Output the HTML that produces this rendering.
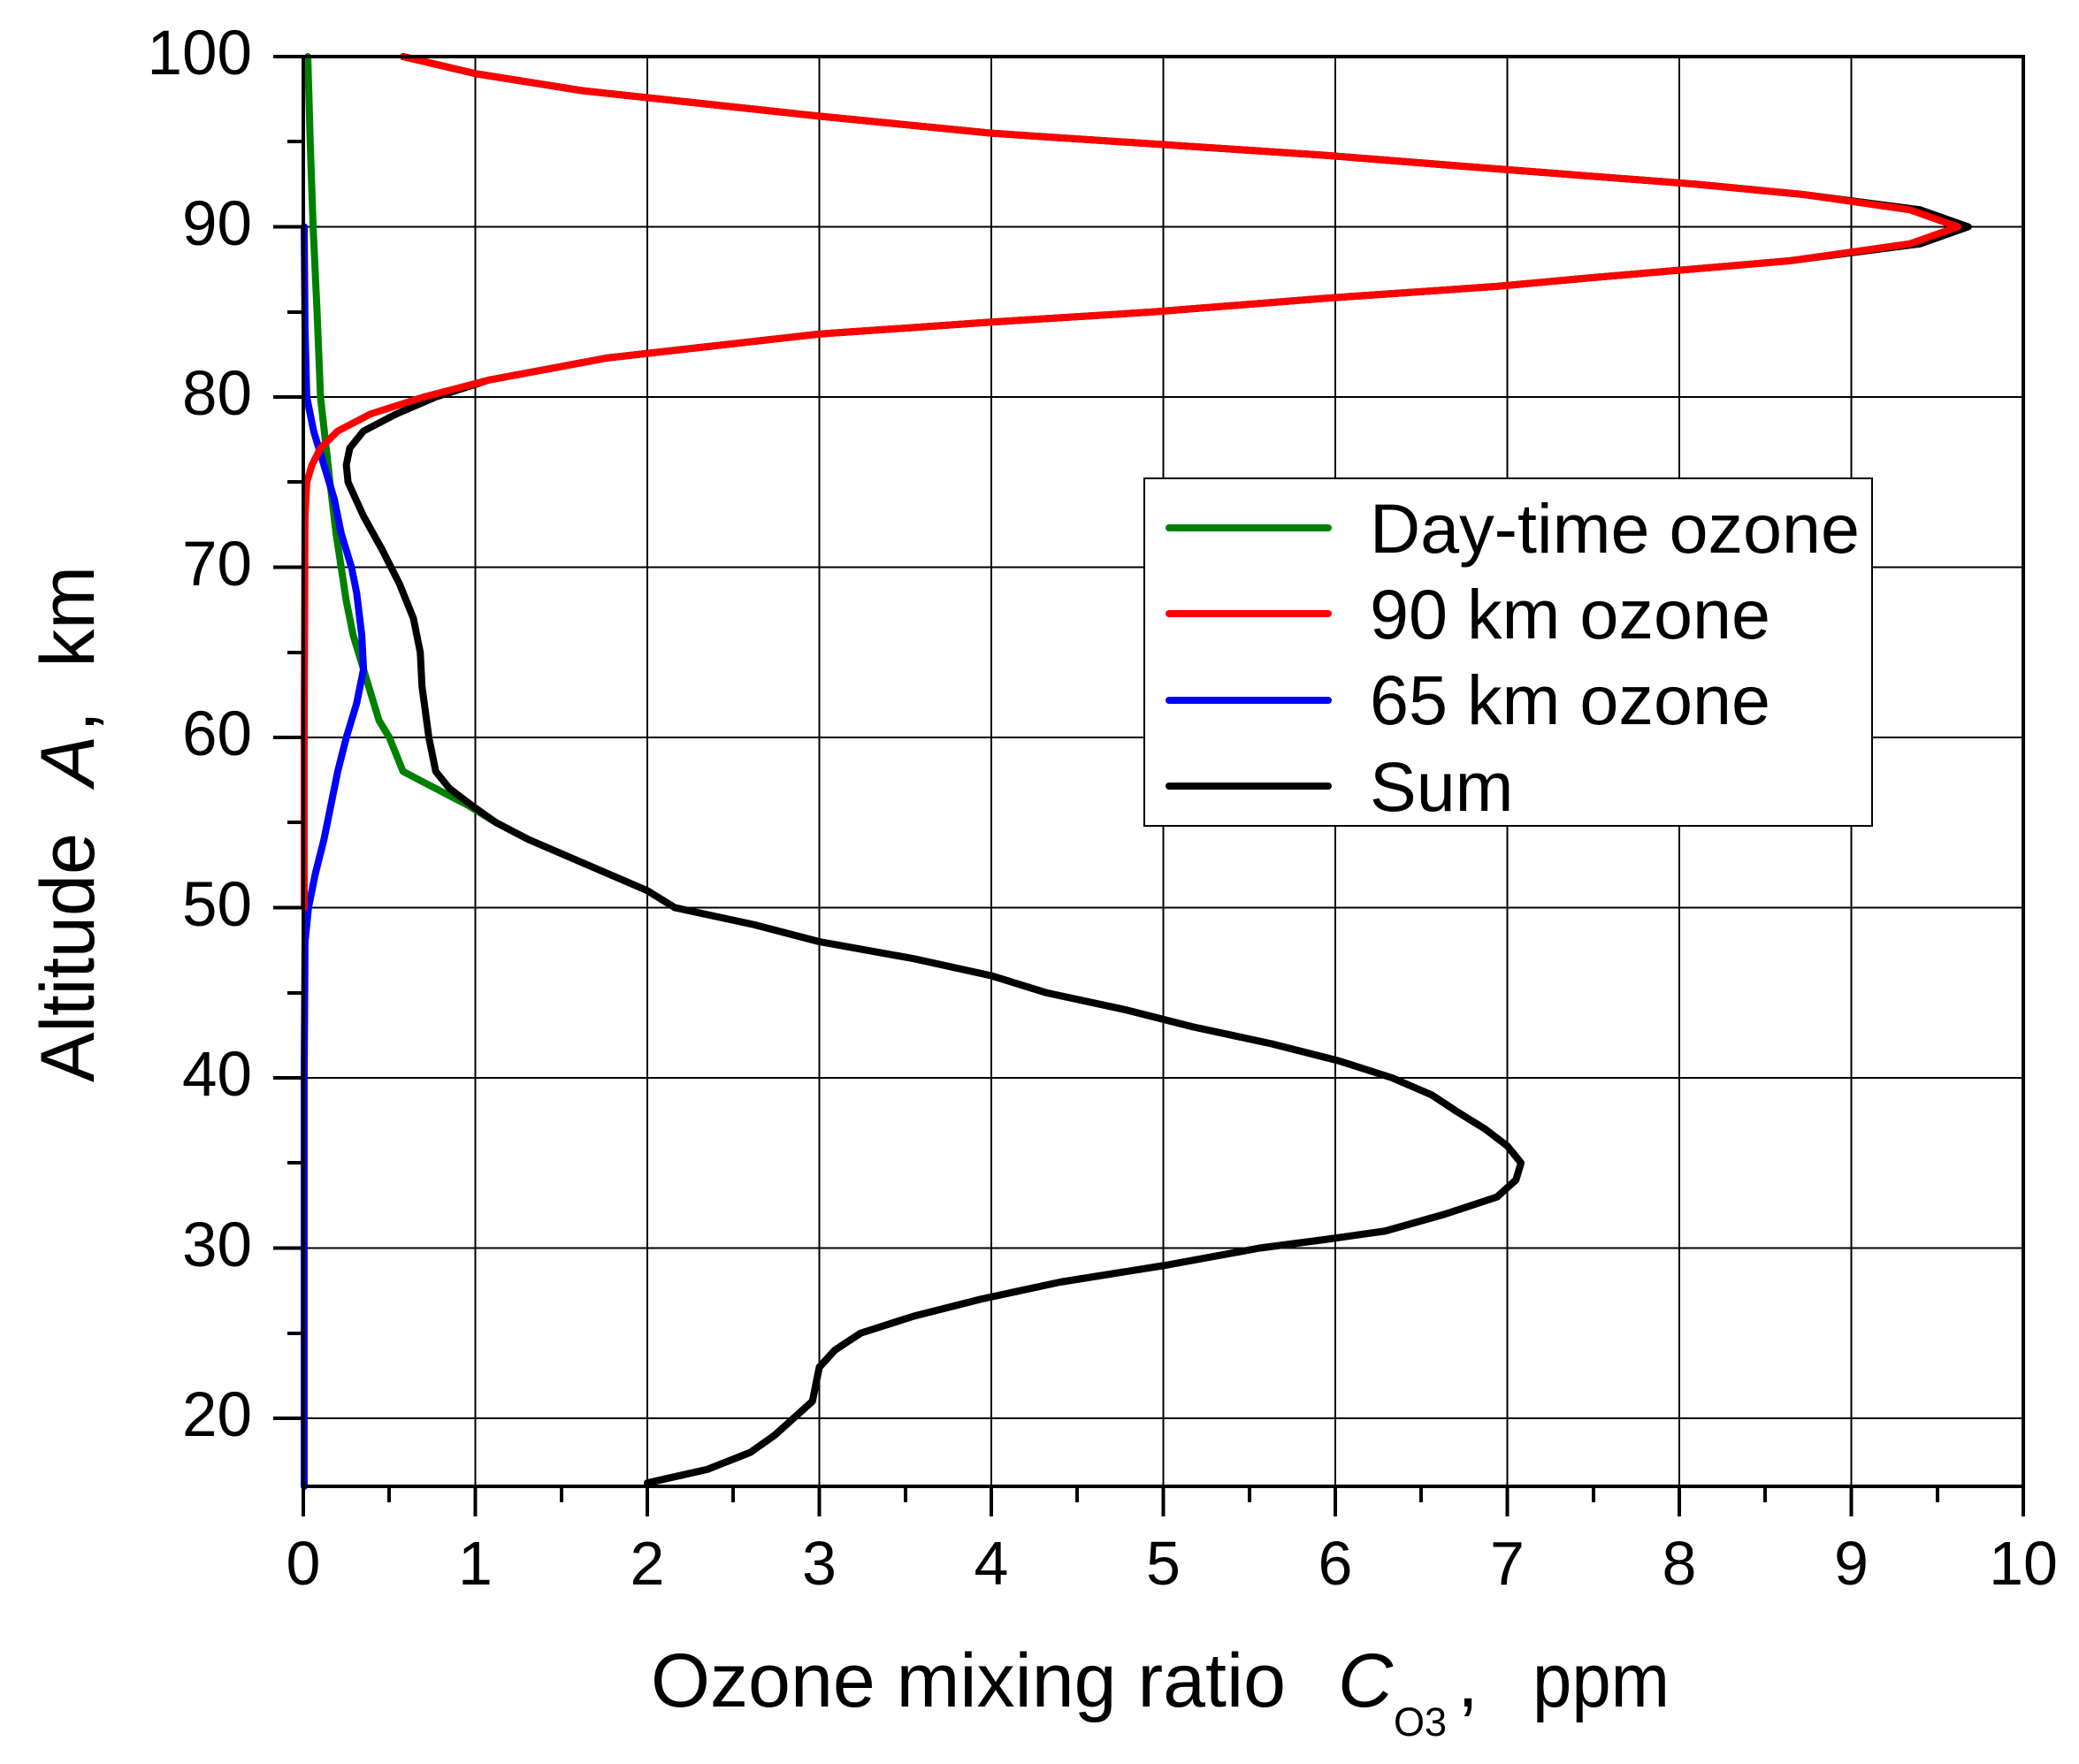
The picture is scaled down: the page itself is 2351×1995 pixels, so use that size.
<!DOCTYPE html>
<html><head><meta charset="utf-8"><style>
html,body{margin:0;padding:0;background:#fff;}
svg{display:block;}
text{font-family:"Liberation Sans",Arial,sans-serif;fill:#000;}
</style></head><body>
<svg width="2351" height="1995" viewBox="0 0 2351 1995" xmlns="http://www.w3.org/2000/svg">
<rect width="2351" height="1995" fill="#fff"/>
<g stroke="#000" stroke-width="2">
<line x1="537.5" y1="64" x2="537.5" y2="1681"/><line x1="732" y1="64" x2="732" y2="1681"/>
<line x1="926.5" y1="64" x2="926.5" y2="1681"/><line x1="1121" y1="64" x2="1121" y2="1681"/>
<line x1="1315.5" y1="64" x2="1315.5" y2="1681"/><line x1="1510" y1="64" x2="1510" y2="1681"/>
<line x1="1704.5" y1="64" x2="1704.5" y2="1681"/><line x1="1899" y1="64" x2="1899" y2="1681"/>
<line x1="2093.5" y1="64" x2="2093.5" y2="1681"/>
<line x1="343" y1="256.5" x2="2288" y2="256.5"/><line x1="343" y1="449" x2="2288" y2="449"/>
<line x1="343" y1="641.5" x2="2288" y2="641.5"/><line x1="343" y1="834" x2="2288" y2="834"/>
<line x1="343" y1="1026.5" x2="2288" y2="1026.5"/><line x1="343" y1="1219" x2="2288" y2="1219"/>
<line x1="343" y1="1411.5" x2="2288" y2="1411.5"/><line x1="343" y1="1604" x2="2288" y2="1604"/>
</g>
<g transform="translate(343 64) scale(194.5 19.25) translate(0 100) scale(1 -1)" fill="none" stroke-linejoin="round" stroke-linecap="round">
<polyline vector-effect="non-scaling-stroke" stroke="#008000" stroke-width="8" points="0.026,100 0.04,95 0.057,90 0.08,85 0.1,80 0.155,75 0.19,72 0.22,70 0.25,68 0.29,66 0.35,64 0.41,62 0.44,61 0.5,60 0.58,58 0.77,57 0.96,56 1.12,55 1.31,54 1.54,53 1.77,52 2.0,51 2.16,50 2.62,49 3.0,48 3.55,47 4.0,46 4.32,45 4.78,44 5.17,43 5.63,42 6.02,41 6.33,40 6.56,39 6.71,38 6.87,37 7.0,36 7.08,35 7.05,34 6.94,33 6.64,32 6.29,31 5.94,30.5 5.56,30 5.02,29 4.4,28 3.94,27 3.55,26 3.24,25 3.09,24 3.0,23 2.96,21 2.85,20 2.74,19 2.6,18 2.35,17 2.0,16.2"/>
<polyline vector-effect="non-scaling-stroke" stroke="#0000ff" stroke-width="8" points="0.005,90 0.01,84 0.02,80 0.06,78 0.12,76 0.18,74 0.22,72 0.28,70 0.31,68.5 0.34,66 0.35,64 0.31,62 0.25,60 0.2,58 0.16,56 0.12,54 0.07,52 0.03,50 0.01,48 0.005,40 0.005,16"/>
<polyline vector-effect="non-scaling-stroke" stroke="#000" stroke-width="8" points="0.58,100 1.0,99 1.62,98 3.0,96.5 4.0,95.5 5.94,94.2 6.94,93.4 8.1,92.5 8.72,91.9 9.4,91 9.68,90 9.4,89 8.64,88 7.48,87 6.94,86.5 5.94,85.8 4.94,85 4.0,84.4 3.0,83.7 1.77,82.3 1.08,81 0.77,80 0.54,79 0.35,78 0.27,77 0.25,76 0.26,75 0.35,73 0.46,71 0.56,69 0.64,67 0.68,65 0.69,63 0.73,60 0.77,58 0.85,57 0.98,56 1.12,55 1.31,54 1.54,53 1.77,52 2.0,51 2.16,50 2.62,49 3.0,48 3.55,47 4.0,46 4.32,45 4.78,44 5.17,43 5.63,42 6.02,41 6.33,40 6.56,39 6.71,38 6.87,37 7.0,36 7.08,35 7.05,34 6.94,33 6.64,32 6.29,31 5.94,30.5 5.56,30 5.02,29 4.4,28 3.94,27 3.55,26 3.24,25 3.09,24 3.0,23 2.96,21 2.85,20 2.74,19 2.6,18 2.35,17 2.0,16.2"/>
<polyline vector-effect="non-scaling-stroke" stroke="#ff0000" stroke-width="8" points="0.58,100 1.0,99 1.62,98 3.0,96.5 4.0,95.5 5.94,94.2 6.94,93.4 8.1,92.5 8.72,91.9 9.34,91 9.62,90 9.34,89 8.64,88 7.48,87 6.94,86.5 5.94,85.8 4.94,85 4.0,84.4 3.0,83.7 1.77,82.3 1.08,81 0.7,80 0.39,79 0.2,78 0.1,77 0.05,76 0.02,75 0.01,73 0.005,60 0.005,50"/>
</g>
<rect x="343" y="64" width="1945" height="1617" fill="none" stroke="#000" stroke-width="4"/>
<g stroke="#000" stroke-width="4">
<line x1="309" y1="64" x2="343" y2="64"/><line x1="309" y1="256.5" x2="343" y2="256.5"/><line x1="309" y1="449" x2="343" y2="449"/>
<line x1="309" y1="641.5" x2="343" y2="641.5"/><line x1="309" y1="834" x2="343" y2="834"/><line x1="309" y1="1026.5" x2="343" y2="1026.5"/>
<line x1="309" y1="1219" x2="343" y2="1219"/><line x1="309" y1="1411.5" x2="343" y2="1411.5"/><line x1="309" y1="1604" x2="343" y2="1604"/>
<line x1="325" y1="160" x2="343" y2="160"/><line x1="325" y1="353" x2="343" y2="353"/><line x1="325" y1="545" x2="343" y2="545"/>
<line x1="325" y1="738" x2="343" y2="738"/><line x1="325" y1="930" x2="343" y2="930"/><line x1="325" y1="1123" x2="343" y2="1123"/>
<line x1="325" y1="1315" x2="343" y2="1315"/><line x1="325" y1="1508" x2="343" y2="1508"/>
<line x1="343" y1="1681" x2="343" y2="1715"/><line x1="537.5" y1="1681" x2="537.5" y2="1715"/><line x1="732" y1="1681" x2="732" y2="1715"/>
<line x1="926.5" y1="1681" x2="926.5" y2="1715"/><line x1="1121" y1="1681" x2="1121" y2="1715"/><line x1="1315.5" y1="1681" x2="1315.5" y2="1715"/>
<line x1="1510" y1="1681" x2="1510" y2="1715"/><line x1="1704.5" y1="1681" x2="1704.5" y2="1715"/><line x1="1899" y1="1681" x2="1899" y2="1715"/>
<line x1="2093.5" y1="1681" x2="2093.5" y2="1715"/><line x1="2288" y1="1681" x2="2288" y2="1715"/>
<line x1="440" y1="1681" x2="440" y2="1699"/><line x1="635" y1="1681" x2="635" y2="1699"/><line x1="829" y1="1681" x2="829" y2="1699"/>
<line x1="1024" y1="1681" x2="1024" y2="1699"/><line x1="1218" y1="1681" x2="1218" y2="1699"/><line x1="1413" y1="1681" x2="1413" y2="1699"/>
<line x1="1607" y1="1681" x2="1607" y2="1699"/><line x1="1802" y1="1681" x2="1802" y2="1699"/><line x1="1996" y1="1681" x2="1996" y2="1699"/>
<line x1="2191" y1="1681" x2="2191" y2="1699"/>
</g>
<g font-size="71" text-anchor="end">
<text x="285" y="84">100</text><text x="285" y="277">90</text><text x="285" y="469">80</text>
<text x="285" y="662">70</text><text x="285" y="854">60</text><text x="285" y="1047">50</text>
<text x="285" y="1239">40</text><text x="285" y="1432">30</text><text x="285" y="1624">20</text>
</g>
<g font-size="70" text-anchor="middle">
<text x="343" y="1792">0</text><text x="537.5" y="1792">1</text><text x="732" y="1792">2</text>
<text x="926.5" y="1792">3</text><text x="1121" y="1792">4</text><text x="1315.5" y="1792">5</text>
<text x="1510" y="1792">6</text><text x="1704.5" y="1792">7</text><text x="1899" y="1792">8</text>
<text x="2093.5" y="1792">9</text><text x="2288" y="1792">10</text>
</g>
<text x="736" y="1930" font-size="86" textLength="718" lengthAdjust="spacingAndGlyphs">Ozone mixing ratio</text>
<text x="1513" y="1930" font-size="86" font-style="italic">C</text>
<text x="1576" y="1963" font-size="45">O3</text>
<text x="1648" y="1930" font-size="86">,</text>
<text x="1733" y="1930" font-size="86" textLength="155" lengthAdjust="spacingAndGlyphs">ppm</text>
<g transform="translate(106 932) rotate(-90)">
<text x="-292" y="0" font-size="86" textLength="282" lengthAdjust="spacingAndGlyphs">Altitude</text>
<text x="43" y="0" font-size="86" font-style="italic">A</text>
<text x="104" y="0" font-size="86">,</text>
<text x="292" y="0" font-size="86" text-anchor="end">km</text>
</g>
<rect x="1294" y="541" width="823" height="393" fill="#fff" stroke="#000" stroke-width="2"/>
<g stroke-width="8" stroke-linecap="round">
<line x1="1322" y1="597" x2="1502" y2="597" stroke="#008000"/>
<line x1="1322" y1="694" x2="1502" y2="694" stroke="#ff0000"/>
<line x1="1322" y1="792" x2="1502" y2="792" stroke="#0000ff"/>
<line x1="1322" y1="889" x2="1502" y2="889" stroke="#000"/>
</g>
<g font-size="79">
<text x="1549" y="625" textLength="554" lengthAdjust="spacingAndGlyphs">Day-time ozone</text>
<text x="1549" y="722" textLength="453" lengthAdjust="spacingAndGlyphs">90 km ozone</text>
<text x="1549" y="819" textLength="453" lengthAdjust="spacingAndGlyphs">65 km ozone</text>
<text x="1549" y="917">Sum</text>
</g>
</svg>
</body></html>
